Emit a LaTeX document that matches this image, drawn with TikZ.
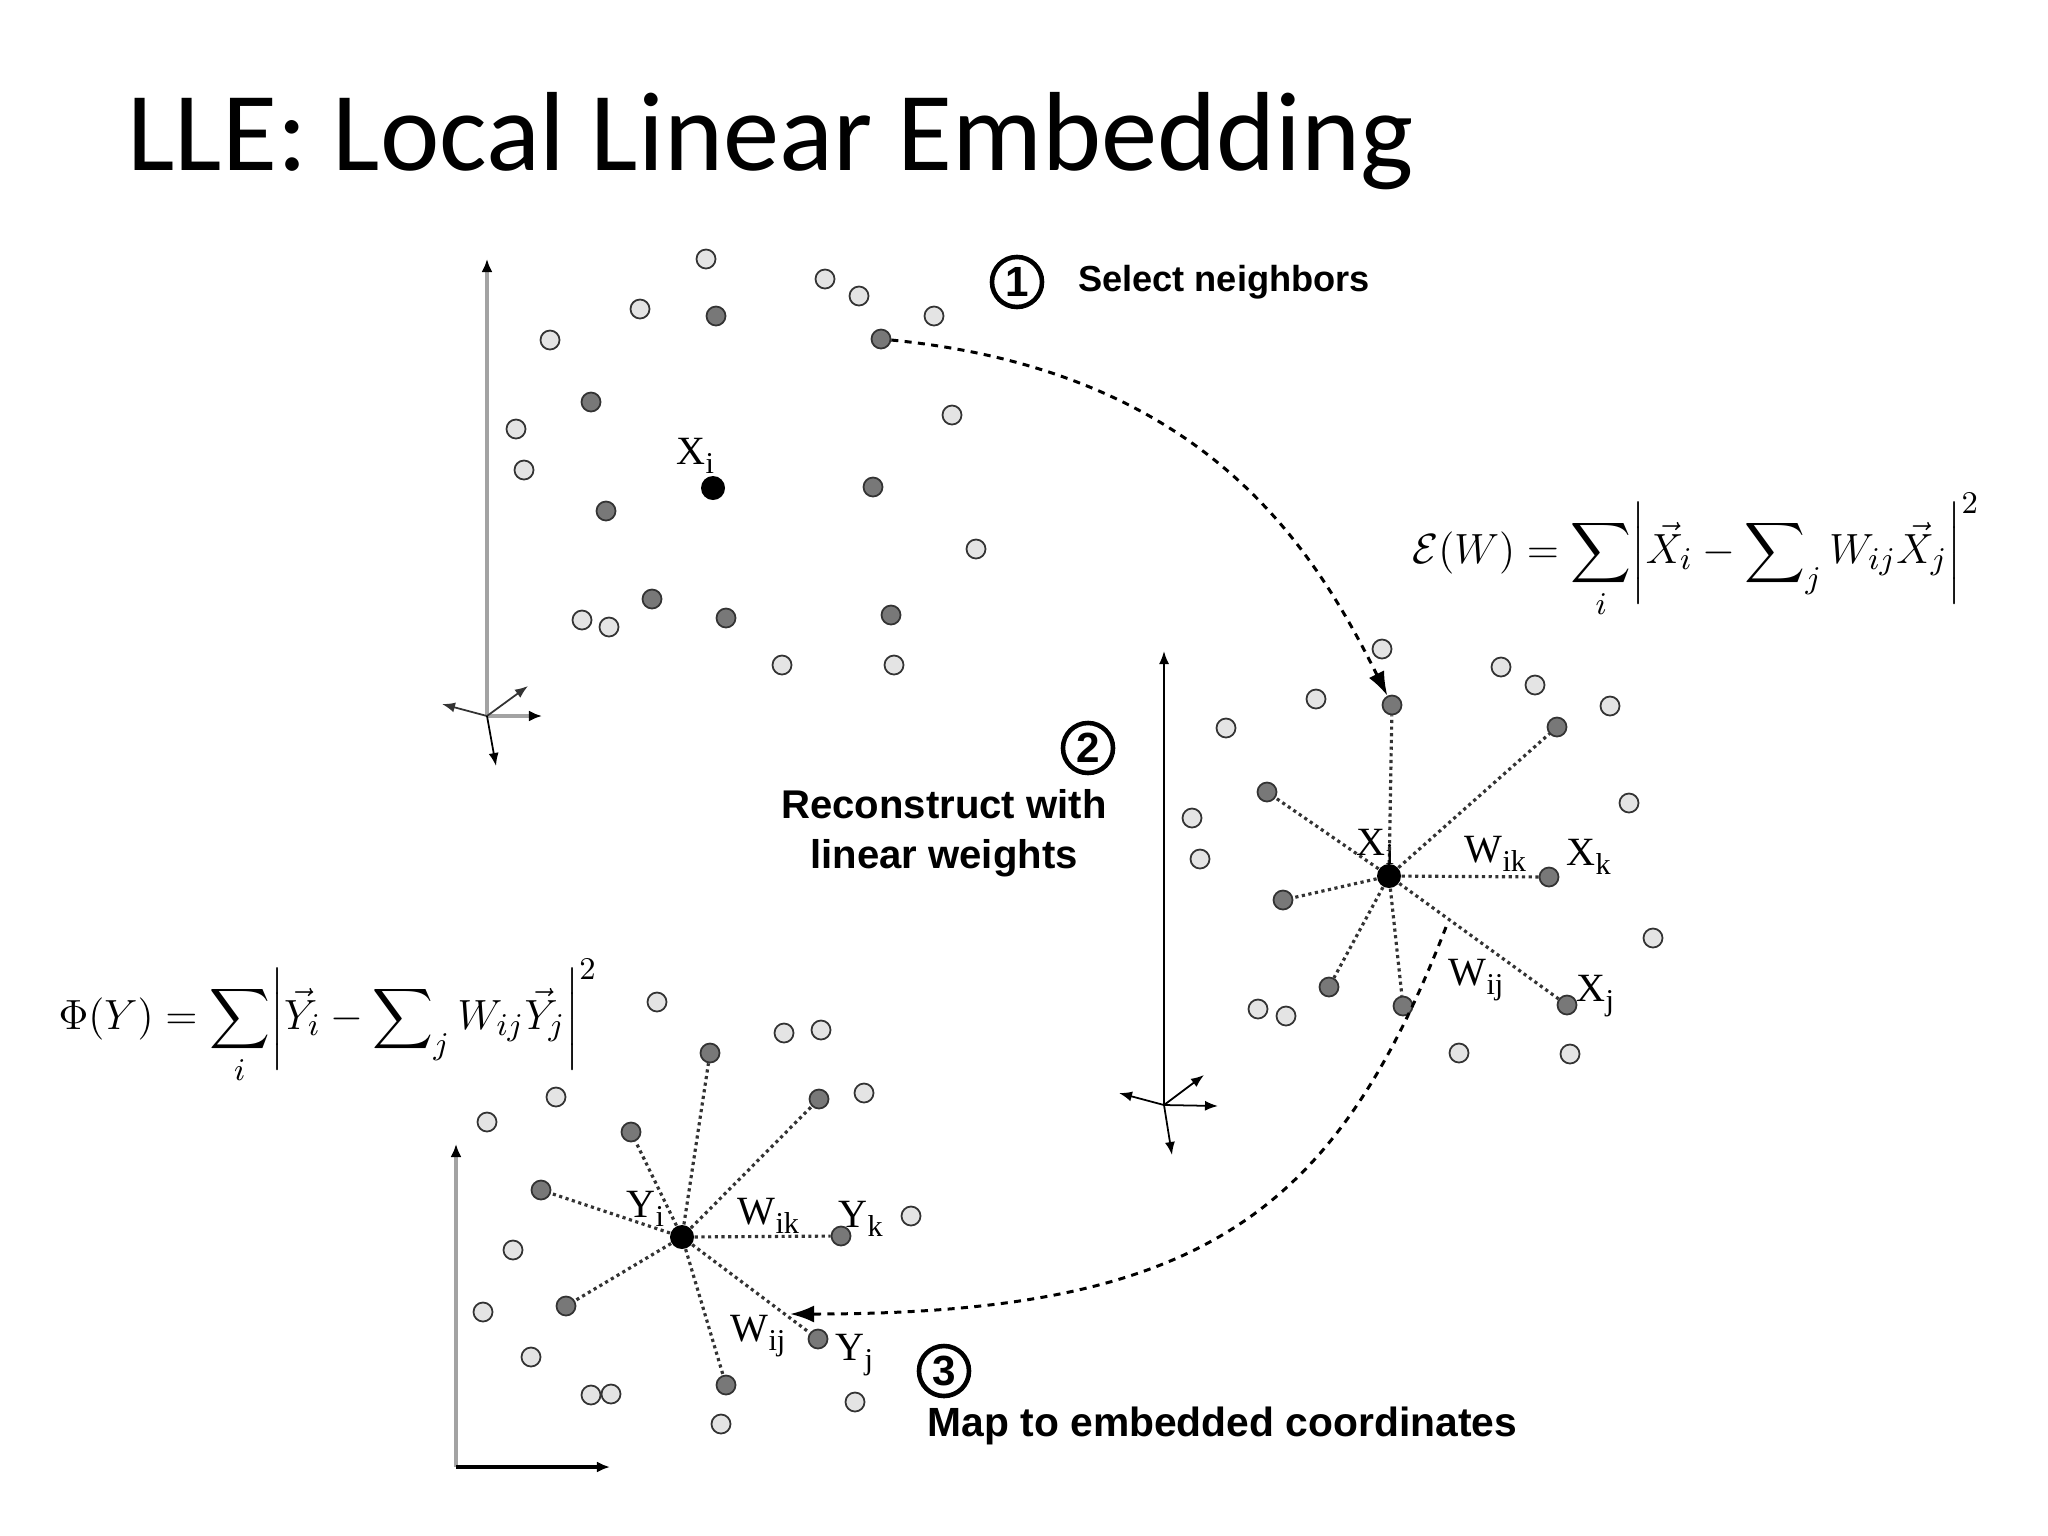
\documentclass[tikz,border=0pt]{standalone}
\usepackage{amsmath}
\usepackage{fontspec}
\usetikzlibrary{arrows.meta, positioning}
\newfontfamily\titlefont{Carlito}
\newfontfamily\stepfont{Liberation Sans}
\newfontfamily\labelfont{Liberation Serif}
\definecolor{ptlight}{HTML}{E4E4E4}
\definecolor{ptdark}{HTML}{787878}
\definecolor{axisgray}{HTML}{A3A3A3}
\pgfdeclarelayer{links}
\pgfsetlayers{links,main}
% letter with a lowered index, as in the figure
\newcommand{\sublbl}[2]{#1\raisebox{-0.5ex}{\fontsize{8.6}{9}\selectfont #2}}

\begin{document}
\begin{tikzpicture}[
    x=0.01cm, y=-0.01cm,
    % 1. data points
    lightpt/.style={
        circle,
        draw=black!80,
        fill=ptlight,
        line width=0.5pt,
        minimum size=0.19cm,
        inner sep=0pt
    },
    darkpt/.style={
        lightpt,
        fill=ptdark
    },
    centerpt/.style={
        circle,
        fill=black,
        minimum size=0.24cm,
        inner sep=0pt
    },
    % 2. reconstruction weights
    weightline/.style={
        densely dotted,
        line width=0.9pt,
        draw=black!80
    },
    % 3. dashed mapping arrows
    maparrow/.style={
        -{Latex[length=0.24cm, width=0.17cm]},
        line width=0.85pt,
        dash pattern=on 2pt off 1.8pt
    },
    % 4. axes
    bigaxis/.style={
        -{Latex[length=0.13cm, width=0.11cm, color=black]},
        line width=1pt,
        draw=axisgray
    },
    thinaxis/.style={
        -{Latex[length=0.13cm, width=0.10cm]},
        line width=0.5pt
    },
    % 5. step marks and texts
    stepnum/.style={
        circle,
        draw,
        line width=1.3pt,
        minimum size=0.5cm,
        inner sep=0pt,
        font=\stepfont\bfseries\fontsize{12}{12}\selectfont
    },
    steptext/.style={
        inner sep=0pt,
        font=\stepfont\bfseries\fontsize{11.4}{14.2}\selectfont
    },
    ptlabel/.style={
        anchor=base west,
        inner sep=0pt,
        font=\labelfont\fontsize{11.4}{12}\selectfont
    },
    formula/.style={
        inner sep=0pt,
        font=\fontsize{12.2}{14}\selectfont
    }
]
    \useasboundingbox (0,0) rectangle (2048,1536);

    % --- 1. Title ---
    \node[anchor=base west, inner sep=0pt, font=\titlefont\fontsize{32}{36}\selectfont]
        (title) at (127,170) {LLE: Local Linear Embedding};

    % --- 2. Input space (select neighbors) ---
    \foreach \px/\py [count=\k] in {706/259, 825/279, 859/296, 640/309, 550/340,
        934/316, 952/415, 516/429, 524/470, 976/549, 582/620, 609/627, 782/665, 894/665}
        \node[lightpt] (pa\k) at (\px,\py) {};
    \foreach \px/\py [count=\k] in {716/316, 881/339, 591/402, 873/487,
        606/511, 652/599, 726/618, 891/615}
        \node[darkpt] (pb\k) at (\px,\py) {};
    \node[centerpt] (xone) at (713,488) {};
    \node[ptlabel] (xonelbl) at (676,464) {\sublbl{X}{i}};

    \coordinate (oone) at (487,716);
    \draw[bigaxis] (oone) -- ++(0,-457);
    \draw[bigaxis] (oone) -- ++(55,0);
    \draw[thinaxis, black!80] (oone) -- ++(-45,-12);
    \draw[thinaxis, black!80] (oone) -- ++(41,-30);
    \draw[thinaxis] (oone) -- ++(9,50);

    % --- 3. Reconstruction space ---
    \foreach \px/\py [count=\k] in {1382/649, 1501/667, 1535/685, 1610/706, 1316/699,
        1226/728, 1629/803, 1192/818, 1200/859, 1653/938, 1258/1009, 1286/1016,
        1459/1053, 1570/1054}
        \node[lightpt] (qa\k) at (\px,\py) {};
    \foreach \px/\py [count=\k] in {1392/705, 1557/727, 1267/792, 1549/877,
        1283/900, 1329/987, 1403/1006, 1567/1005}
        \node[darkpt] (qb\k) at (\px,\py) {};
    \node[centerpt] (xtwo) at (1389,876) {};

    \node[ptlabel] (xtwolbl) at (1356,855) {\sublbl{X}{i}};
    \node[ptlabel] (wiktwo) at (1464,862) {\sublbl{W}{ik}};
    \node[ptlabel] (xktwo) at (1566,865) {\sublbl{X}{k}};
    \node[ptlabel] (wijtwo) at (1448,985) {\sublbl{W}{ij}};
    \node[ptlabel] (xjtwo) at (1576,1001) {\sublbl{X}{j}};

    \coordinate (otwo) at (1164,1105);
    \draw[thinaxis] (otwo) -- ++(0,-454);
    \draw[thinaxis] (otwo) -- ++(54,1);
    \draw[thinaxis] (otwo) -- ++(-45,-12);
    \draw[thinaxis] (otwo) -- ++(40,-30);
    \draw[thinaxis] (otwo) -- ++(8,50);

    % --- 4. Embedded space ---
    \foreach \px/\py [count=\k] in {657/1002, 784/1033, 821/1030, 556/1097, 487/1122,
        864/1093, 911/1216, 513/1250, 483/1312, 531/1357, 591/1395, 611/1394,
        721/1424, 855/1402}
        \node[lightpt] (ra\k) at (\px,\py) {};
    \foreach \px/\py [count=\k] in {710/1053, 819/1099, 631/1132, 541/1190,
        841/1236, 566/1306, 818/1339, 726/1385}
        \node[darkpt] (rb\k) at (\px,\py) {};
    \node[centerpt] (ythree) at (682,1237) {};

    \node[ptlabel] (yilbl) at (626,1217) {\sublbl{Y}{i}};
    \node[ptlabel] (wikthree) at (737,1224) {\sublbl{W}{ik}};
    \node[ptlabel] (yklbl) at (838,1227) {\sublbl{Y}{k}};
    \node[ptlabel] (wijthree) at (730,1341) {\sublbl{W}{ij}};
    \node[ptlabel] (yjlbl) at (835,1360) {\sublbl{Y}{j}};

    \coordinate (othree) at (456,1467);
    \draw[bigaxis] (othree) -- ++(0,-323);
    \draw[bigaxis, draw=black] (othree) -- ++(154,0);

    % --- 5. Weights (behind the points) ---
    \begin{pgfonlayer}{links}
        \foreach \k in {1,...,8} {
            \draw[weightline] (xtwo) -- (qb\k);
            \draw[weightline] (ythree) -- (rb\k);
        }
    \end{pgfonlayer}

    % --- 6. Steps ---
    \node[stepnum] (none) at (1017,282) {1};
    \node[steptext, font=\stepfont\bfseries\fontsize{10.3}{12}\selectfont,
        right=0.33cm of none] (sone) {Select neighbors};

    \node[stepnum] (ntwo) at (1088,748) {2};
    \node[steptext, align=center] (stwo) at (944,833) {Reconstruct with\\linear weights};

    \node[stepnum] (nthree) at (944,1371) {3};
    \node[steptext, font=\stepfont\bfseries\fontsize{11.6}{14}\selectfont,
        anchor=west] (sthree) at (927,1426) {Map to embedded coordinates};

    % --- 7. Cost functions ---
    \node[formula] (errw) at (1696,556)
        {$\displaystyle \mathcal{E}(W) = \sum_i \biggl|\vec{X}_i - \sum\nolimits_j W_{ij}\vec{X}_j\biggr|^2$};
    \node[formula] (phiy) at (328,1022)
        {$\displaystyle \Phi(Y) = \sum_i \biggl|\vec{Y}_i - \sum\nolimits_j W_{ij}\vec{Y}_j\biggr|^2$};

    % --- 8. Mapping arrows ---
    \coordinate (mapstart) at (1446,927);
    \coordinate (mapend) at (790,1314);
    \draw[maparrow] (pb2) .. controls (1204,371) and (1312,545) .. (qb1);
    \draw[maparrow] (mapstart) .. controls (1334,1216) and (1199,1314) .. (mapend);

\end{tikzpicture}
\end{document}
